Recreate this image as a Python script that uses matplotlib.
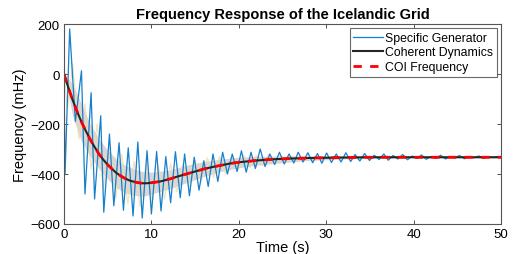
import matplotlib
matplotlib.use("Agg")
import matplotlib.pyplot as plt

plt.rcParams['font.family'] = ['Liberation Sans', 'DejaVu Sans']

### DATA ###
# coherent dynamics / COI frequency (mHz)
coh_t = [0, 0.5, 1, 1.5, 2, 2.5, 3, 3.5, 4, 4.5, 5, 5.5, 6, 6.5, 7, 7.5, 8, 8.5, 9, 9.5,
         10, 11, 12, 13, 14, 15, 16, 17, 18, 19, 20, 22, 24, 26, 28, 30, 35, 40, 50]
coh_f = [0, -55, -105, -150, -192, -228, -262, -292, -320, -343, -363, -380, -396, -408,
         -418, -426, -431, -435, -437, -437, -435, -430, -421, -410, -400, -390, -380,
         -372, -365, -358, -353, -346, -341, -338, -336, -335, -333, -333, -333]

# specific generator, peaks and troughs
gen_t = [0, 0.12, 0.65, 1.3, 2.0, 2.4, 3.1, 3.5, 4.2, 4.55,
         5.2, 5.7, 6.3, 6.8, 7.35, 7.9, 8.45, 8.95, 9.5, 10.0,
         10.6, 11.1, 11.65, 12.2, 12.75, 13.3, 13.8, 14.35, 14.9, 15.45,
         16.0, 16.5, 17.05, 17.6, 18.15, 18.7, 19.25, 19.8, 20.3, 20.85,
         21.4, 21.9, 22.45, 23.0, 23.55, 24.1, 24.65, 25.2, 25.75, 26.3,
         26.8, 27.35, 27.9, 28.45, 29.0, 29.5, 30.05, 30.6, 31.15, 31.7,
         32.25, 32.8, 33.3, 33.85, 34.4, 34.95, 35.5, 36.05, 36.6, 37.1,
         37.65, 38.2, 38.75, 39.3, 39.85, 40.4, 40.9, 41.45, 42.0, 42.55,
         43.1, 43.65, 44.2, 44.7, 45.25, 45.8, 46.35, 46.9, 47.45, 48.0,
         48.5, 49.05, 49.6, 50.0]
gen_f = [0, -400, 180, -190, 13, -480, -75, -500, -167, -553,
         -240, -527, -275, -545, -295, -568, -272, -576, -307, -560,
         -310, -548, -330, -515, -311, -495, -320, -487, -333, -465,
         -347, -450, -320, -430, -313, -400, -320, -390, -307, -393,
         -313, -378, -300, -370, -320, -362, -313, -360, -320, -356,
         -313, -352, -315, -355, -318, -357, -316, -354, -320, -352,
         -315, -350, -322, -348, -318, -346, -325, -342, -320, -345,
         -326, -340, -322, -343, -328, -338, -324, -341, -330, -337,
         -325, -340, -330, -336, -326, -339, -331, -335, -328, -337,
         -332, -334, -330, -333]

# one of the other generators (faint tan trace)
tan_t = [0, 0.4, 1.0, 1.7, 2.4, 3.1, 3.8, 4.5, 5.2, 5.9,
         6.6, 7.3, 8.0, 8.7, 9.4, 10.1, 10.8, 11.5, 12.2, 12.9,
         13.6, 14.3, 15.0, 15.7, 16.4, 17.1, 17.8, 18.5, 19.2, 19.9,
         20.6, 21.3, 22.0, 22.7, 23.4, 24.1, 24.8, 25.5, 26.2, 27,
         30, 35, 50]
tan_f = [0, -140, 40, -260, -120, -380, -200, -460, -270, -500,
         -320, -520, -350, -530, -360, -510, -370, -500, -360, -470,
         -360, -450, -345, -430, -335, -415, -330, -400, -330, -385,
         -325, -375, -325, -365, -322, -358, -325, -352, -328, -345,
         -335, -333, -333]

# spread of the remaining generators
band_t = [0, 1, 2, 3, 4, 5, 6, 7, 8, 9, 10, 12, 14, 16, 18, 20, 22, 25, 28, 32, 36, 40, 50]
band_hi = [0, -40, -120, -200, -260, -305, -340, -365, -380, -390, -393, -385, -365,
           -350, -340, -333, -330, -328, -328, -328, -330, -331, -331]
band_lo = [0, -170, -270, -330, -380, -420, -455, -475, -485, -490, -480, -460, -435,
           -410, -390, -375, -365, -355, -346, -340, -337, -335, -335]

x_ticks = [0, 10, 20, 30, 40, 50]
y_ticks = [-600, -400, -200, 0, 200]

### FIGURE ###
fig = plt.figure(figsize=(5.13, 2.55), dpi=100)
ax = fig.add_axes([64 / 513, 30 / 255, 437 / 513, 200 / 255])

ax.fill_between(band_t, band_lo, band_hi, color="#a8a8a8", alpha=0.45, lw=0)
ax.plot(tan_t, tan_f, color="#f0d9ae", lw=1, alpha=0.7)
ax.plot(gen_t, gen_f, color="#1580cc", lw=0.9, label="Specific Generator")
ax.plot(coh_t, coh_f, color="#262626", lw=1.5, label="Coherent Dynamics")
ax.plot(coh_t, coh_f, color="red", lw=2, ls=(0, (3, 3)), label="COI Frequency")

ax.set_xlim(0, 50)
ax.set_ylim(-600, 200)
ax.set_xticks(x_ticks)
ax.set_yticks(y_ticks)
ax.tick_params(direction="in", top=True, right=True, labelsize=9.5, length=3,
               width=0.6, color="#333333", pad=3)
for s in ax.spines.values():
    s.set_color("#555555")
    s.set_linewidth(0.8)

ax.set_title("Frequency Response of the Icelandic Grid", fontsize=10.5,
             fontweight="bold", pad=4)
ax.set_xlabel("Time (s)", fontsize=10.5, labelpad=0)
ax.set_ylabel("Frequency (mHz)", fontsize=10.5, labelpad=2)

leg = ax.legend(loc="upper right", fontsize=8.8, frameon=True, fancybox=False,
                borderpad=0.3, labelspacing=0.2, handlelength=2.4,
                handletextpad=0.2, borderaxespad=0.35)
leg.get_frame().set_edgecolor("#444444")
leg.get_frame().set_linewidth(0.8)

fig.savefig("out.png", dpi=100)
